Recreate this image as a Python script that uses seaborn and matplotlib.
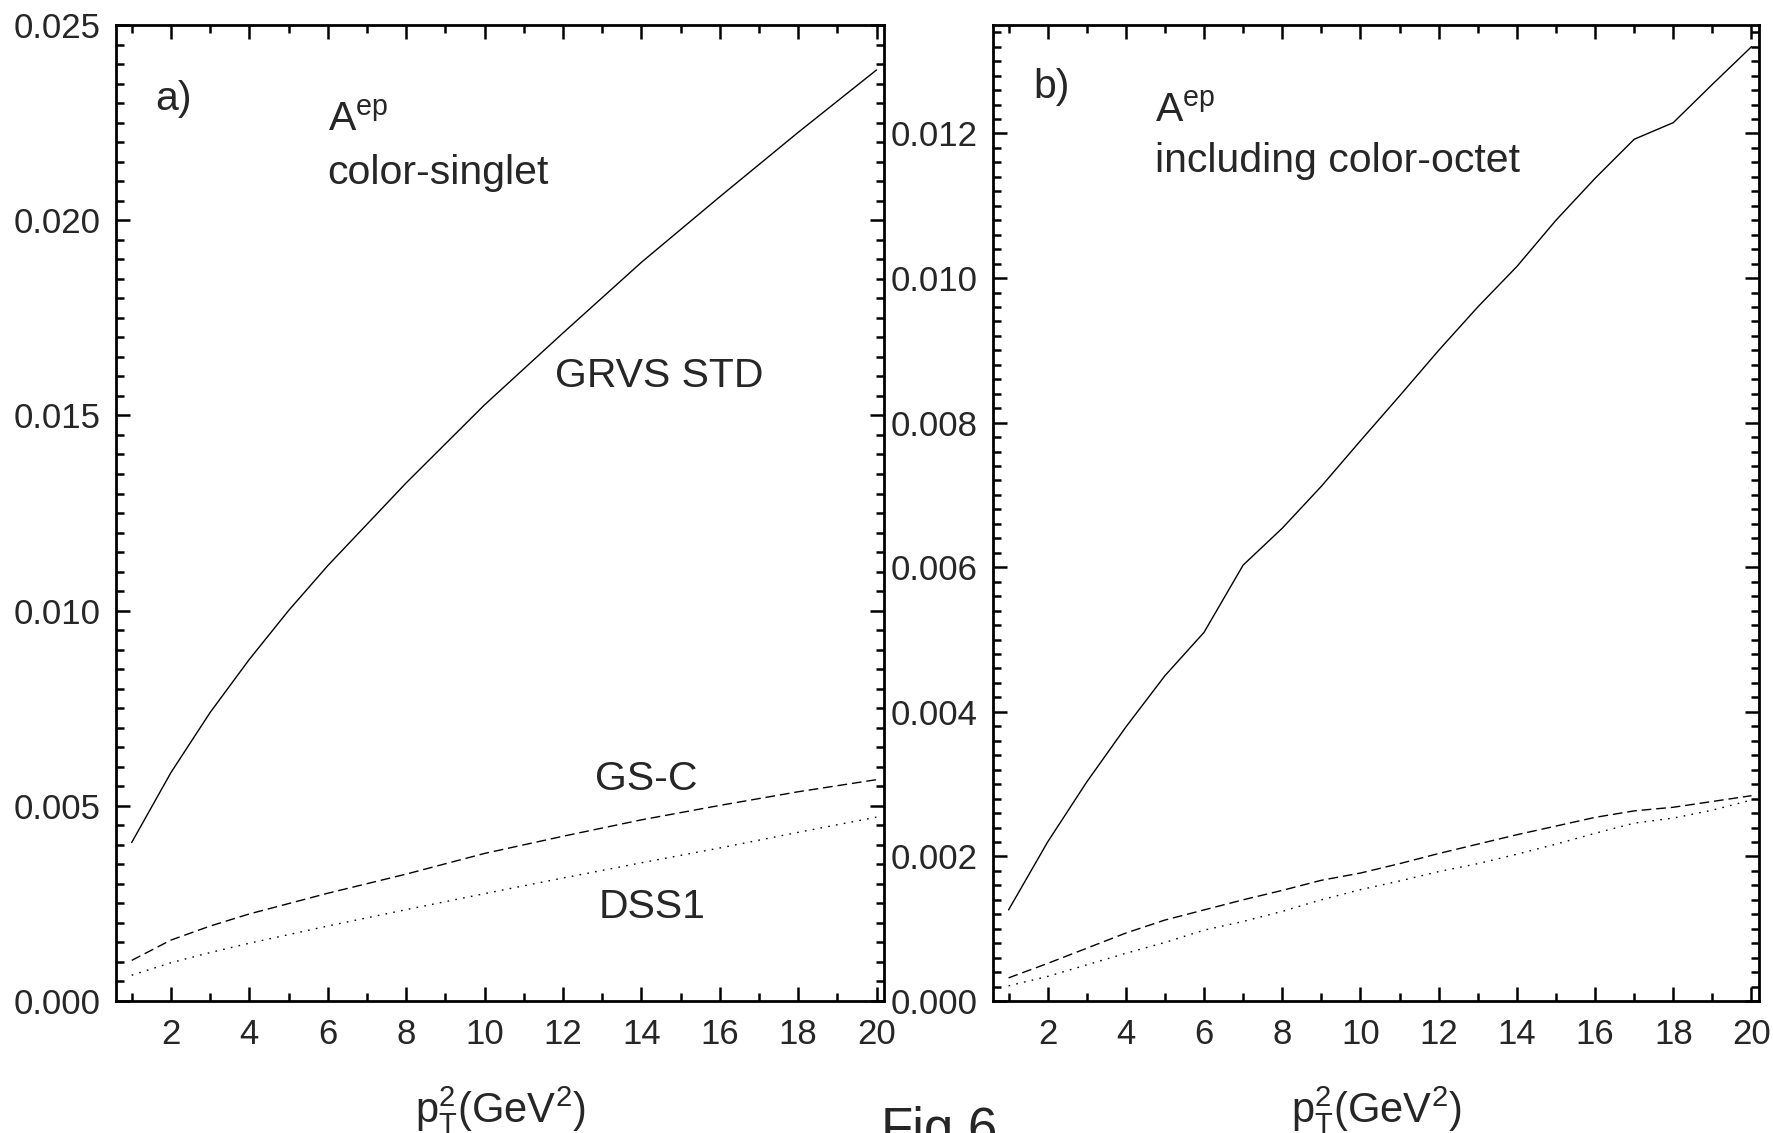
import matplotlib
matplotlib.use("Agg")
import matplotlib.pyplot as plt
import numpy as np
import pandas as pd
import seaborn as sns
from matplotlib.ticker import MultipleLocator, FormatStrFormatter

# ---------------- data ----------------
# panel a) colour-singlet
a_x = [1, 2, 3, 4, 5, 6, 8, 10, 12, 14, 16, 18, 20]
a_grvs = [0.00406, 0.00585, 0.00739, 0.00875, 0.0100, 0.01115, 0.01327,
          0.01527, 0.01711, 0.01892, 0.02060, 0.02225, 0.02385]
a_gsc_x = [1, 2, 3, 4, 6, 8, 10, 12, 14, 16, 18, 20]
a_gsc = [0.00104, 0.00156, 0.00192, 0.00223, 0.00276, 0.00325, 0.00378,
         0.00422, 0.00464, 0.00501, 0.00536, 0.00567]
a_dss1 = [0.00066, 0.00098, 0.00124, 0.00148, 0.00192, 0.00234, 0.00275,
          0.00315, 0.00354, 0.00392, 0.00432, 0.00471]

# panel b) including colour-octet
b_x = list(range(1, 21))
b_grvs = [0.00126, 0.00220, 0.00303, 0.00379, 0.00450, 0.00510, 0.00603,
          0.00654, 0.00712, 0.00775, 0.00837, 0.00900, 0.00960, 0.01016,
          0.01080, 0.01138, 0.01192, 0.01215, 0.01268, 0.01320]
b_gsc = [0.00032, 0.00052, 0.00073, 0.00094, 0.00112, 0.00126, 0.00140,
         0.00153, 0.00167, 0.00177, 0.00190, 0.00204, 0.00217, 0.00230,
         0.00242, 0.00254, 0.00263, 0.00268, 0.00276, 0.00284]
b_dss1 = [0.00021, 0.00034, 0.00050, 0.00066, 0.00081, 0.00098, 0.00110,
          0.00124, 0.00140, 0.00154, 0.00166, 0.00179, 0.00190, 0.00203,
          0.00217, 0.00232, 0.00246, 0.00253, 0.00264, 0.00278]

# ---------------- style ----------------
sns.set_style("ticks")
plt.rcParams["font.family"] = ["Liberation Sans", "DejaVu Sans"]
plt.rcParams["mathtext.fontset"] = "custom"
plt.rcParams["mathtext.rm"] = "Liberation Sans"
plt.rcParams["mathtext.it"] = "Liberation Sans"
plt.rcParams["mathtext.default"] = "regular"

DPI = 100
fig = plt.figure(figsize=(17.74, 11.33), dpi=DPI)
ax_a = fig.add_axes([0.0654, 0.1165, 0.4329, 0.8614])
ax_b = fig.add_axes([0.5597, 0.1165, 0.4318, 0.8614])

solid = "-"
dashed = (0, (7, 3.5))
dotted = (0, (1.2, 4.5))
lw = 1.0

def style_axes(ax, ylim, ymajor, yminor):
    ax.set_xlim(0.6, 20.19)
    ax.set_ylim(*ylim)
    ax.xaxis.set_major_locator(MultipleLocator(2))
    ax.xaxis.set_minor_locator(MultipleLocator(1))
    ax.yaxis.set_major_locator(MultipleLocator(ymajor))
    ax.yaxis.set_minor_locator(MultipleLocator(yminor))
    ax.yaxis.set_major_formatter(FormatStrFormatter("%.3f"))
    ax.tick_params(which="both", direction="in", top=True, right=True,
                   width=1.8, color="black", labelsize=25)
    ax.tick_params(which="major", length=10)
    ax.tick_params(which="minor", length=5.5)
    ax.tick_params(axis="y", which="major", pad=11)
    ax.tick_params(axis="x", which="major", pad=12)
    for s in ax.spines.values():
        s.set_linewidth(2.0)
        s.set_color("black")
        s.set_visible(True)
    ax.set_xlabel("p$_T^2$(GeV$^2$)", fontsize=30, va="baseline")
    ax.xaxis.set_label_coords(0.5, -0.124)
    ax.set_ylabel("")

# panel a
sns.lineplot(x=a_x, y=a_grvs, ax=ax_a, color="black", lw=lw, linestyle=solid)
sns.lineplot(x=a_gsc_x, y=a_gsc, ax=ax_a, color="black", lw=lw, linestyle=dashed)
sns.lineplot(x=a_gsc_x, y=a_dss1, ax=ax_a, color="black", lw=lw, linestyle=dotted)
style_axes(ax_a, (0, 0.025), 0.005, 0.0005)

# panel b
sns.lineplot(x=b_x, y=b_grvs, ax=ax_b, color="black", lw=lw, linestyle=solid)
sns.lineplot(x=b_x, y=b_gsc, ax=ax_b, color="black", lw=lw, linestyle=dashed)
sns.lineplot(x=b_x, y=b_dss1, ax=ax_b, color="black", lw=lw, linestyle=dotted)
style_axes(ax_b, (0, 0.0135), 0.002, 0.0002)

fs = 29.5
ax_a.text(1.6, 0.02282, "a)", fontsize=fs, va="baseline")
ax_a.text(6.0, 0.02231, "A$^{ep}$", fontsize=fs, va="baseline")
ax_a.text(6.0, 0.02092, "color-singlet", fontsize=fs, va="baseline")
ax_a.text(11.8, 0.01573, "GRVS STD", fontsize=fs, va="baseline")
ax_a.text(12.82, 0.0054, "GS-C", fontsize=fs, va="baseline")
ax_a.text(12.9, 0.00213, "DSS1", fontsize=fs, va="baseline")

ax_b.text(1.63, 0.01249, "b)", fontsize=fs, va="baseline")
ax_b.text(4.75, 0.01217, "A$^{ep}$", fontsize=fs, va="baseline")
ax_b.text(4.75, 0.01147, "including color-octet", fontsize=fs, va="baseline")

fig.text(0.4966, -0.0106, "Fig.6", fontsize=38, va="baseline", ha="left")

fig.savefig("out.png", dpi=DPI)
